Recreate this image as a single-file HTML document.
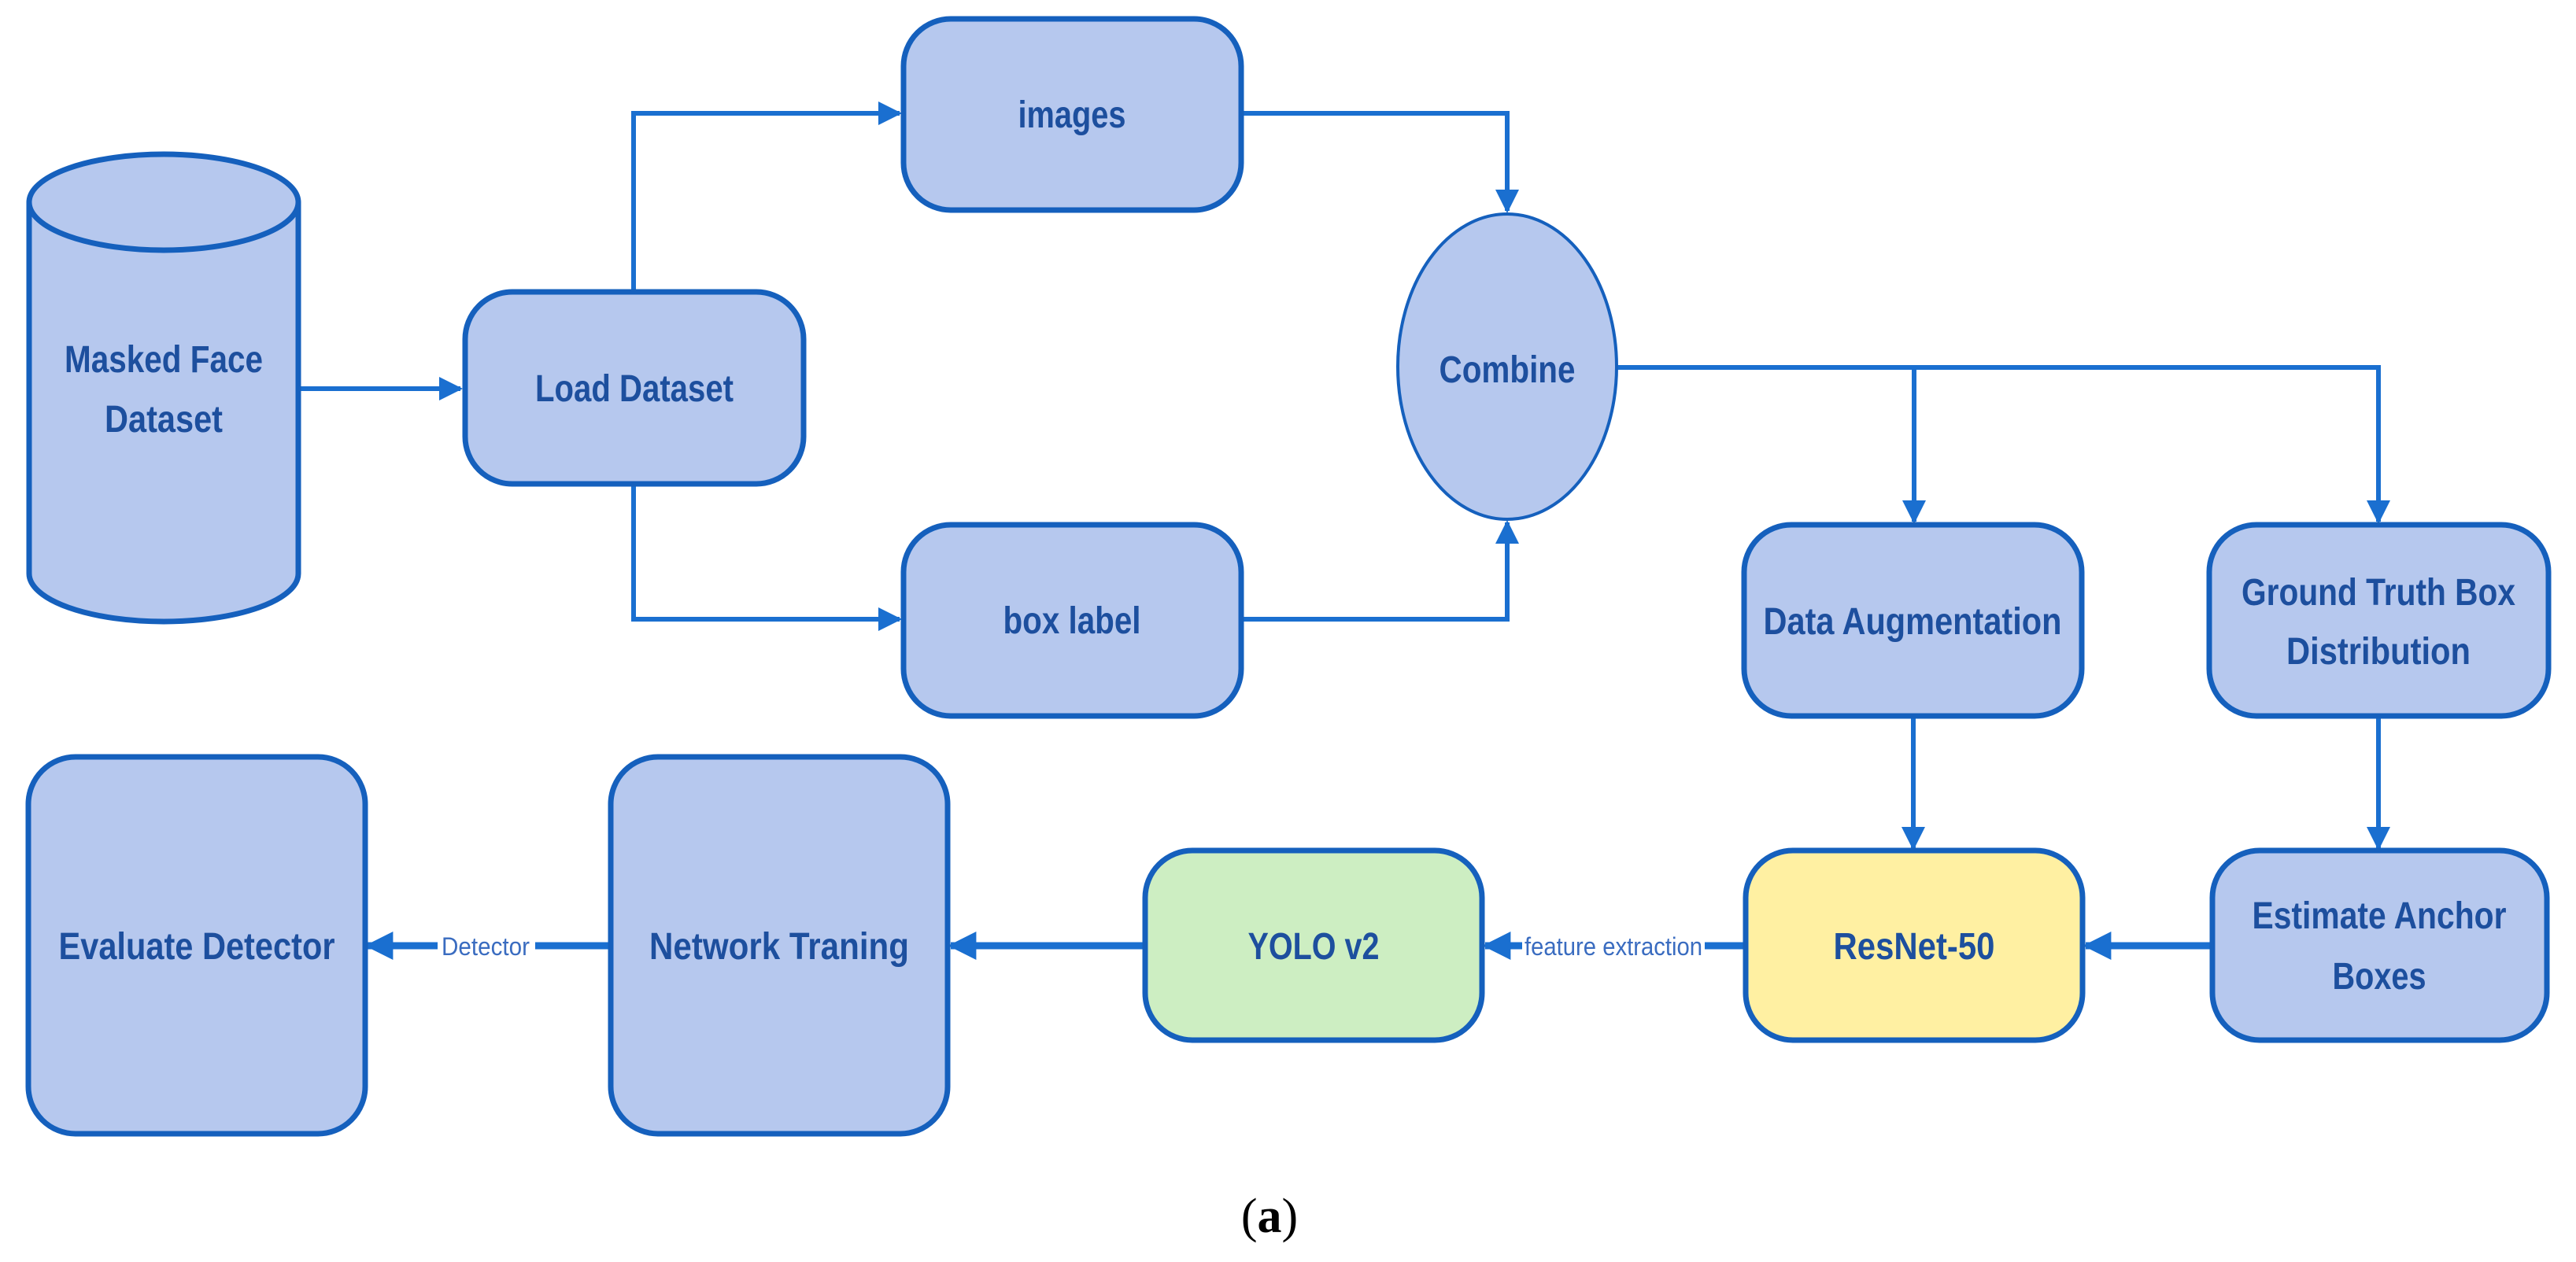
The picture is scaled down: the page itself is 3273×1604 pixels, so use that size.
<!DOCTYPE html>
<html><head><meta charset="utf-8"><style>
html,body{margin:0;padding:0;background:#fff;}
svg{display:block;}
text{font-family:"Liberation Sans",sans-serif;fill:#1d4f9e;}
</style></head><body>
<svg width="3273" height="1604" viewBox="0 0 3273 1604" xmlns="http://www.w3.org/2000/svg">
<defs>
<marker id="ar" markerWidth="5" markerHeight="5" refX="4.5" refY="2.5" orient="auto" markerUnits="strokeWidth">
<path d="M0,0 L5,2.5 L0,5 z" fill="#1a6fd0"/>
</marker>
<marker id="ar2" markerWidth="4" markerHeight="4" refX="3.6" refY="2" orient="auto" markerUnits="strokeWidth">
<path d="M0,0 L4,2 L0,4 z" fill="#1a6fd0"/>
</marker>
</defs>
<g stroke="#1a6fd0" stroke-width="6" fill="none">
<line x1="379" y1="494" x2="585" y2="494" marker-end="url(#ar)"/>
<polyline points="805,371 805,144 1143,144" marker-end="url(#ar)"/>
<polyline points="805,615 805,787 1143,787" marker-end="url(#ar)"/>
<polyline points="1577,144 1915,144 1915,268" marker-end="url(#ar)"/>
<polyline points="1577,787 1915,787 1915,664" marker-end="url(#ar)"/>
<polyline points="2054,467 3022,467 3022,663" marker-end="url(#ar)"/>
<polyline points="2432,467 2432,663" marker-end="url(#ar)"/>
<line x1="2431" y1="910" x2="2431" y2="1078" marker-end="url(#ar)"/>
<line x1="3022" y1="910" x2="3022" y2="1078" marker-end="url(#ar)"/>
<line x1="2811" y1="1202" x2="2650" y2="1202" stroke-width="9" marker-end="url(#ar2)"/>
<line x1="2218" y1="1202" x2="1887" y2="1202" stroke-width="9" marker-end="url(#ar2)"/>
<line x1="1455" y1="1202" x2="1208" y2="1202" stroke-width="9" marker-end="url(#ar2)"/>
<line x1="776" y1="1202" x2="467" y2="1202" stroke-width="9" marker-end="url(#ar2)"/>
</g>
<rect x="1934" y="1180" width="232" height="44" fill="#fff"/>
<text x="2050" y="1214" font-size="32" text-anchor="middle" textLength="226" lengthAdjust="spacingAndGlyphs" style="fill:#3a6cc0">feature extraction</text>
<rect x="556" y="1180" width="124" height="44" fill="#fff"/>
<text x="617" y="1214" font-size="32" text-anchor="middle" textLength="112" lengthAdjust="spacingAndGlyphs" style="fill:#3a6cc0">Detector</text>

<g stroke="#1560bd" stroke-width="7" fill="#b6c8ee">
<path d="M37,257 L37,729 A171,61 0 0 0 379,729 L379,257"/>
<ellipse cx="208" cy="257" rx="171" ry="61"/>
<rect x="591" y="371" width="430" height="244" rx="60"/>
<rect x="1148" y="24" width="429" height="243" rx="60"/>
<rect x="1148" y="667" width="429" height="243" rx="60"/>
<ellipse cx="1915" cy="466" rx="139" ry="194" stroke-width="4"/>
<rect x="2216" y="667" width="429" height="243" rx="60"/>
<rect x="2807" y="667" width="431" height="243" rx="60"/>
<rect x="2811" y="1081" width="425" height="241" rx="60"/>
<rect x="2218" y="1081" width="428" height="241" rx="60" fill="#fff0a2"/>
<rect x="1455" y="1081" width="428" height="241" rx="60" fill="#cdeec2"/>
<rect x="776" y="962" width="428" height="479" rx="60"/>
<rect x="36" y="962" width="428" height="479" rx="60"/>
</g>
<g font-size="48" font-weight="bold" text-anchor="middle" lengthAdjust="spacingAndGlyphs">
<text x="208" y="473" textLength="252" lengthAdjust="spacingAndGlyphs">Masked Face</text>
<text x="208" y="549" textLength="150" lengthAdjust="spacingAndGlyphs">Dataset</text>
<text x="806" y="510" textLength="252" lengthAdjust="spacingAndGlyphs">Load Dataset</text>
<text x="1362" y="162" textLength="137" lengthAdjust="spacingAndGlyphs">images</text>
<text x="1362" y="805" textLength="175" lengthAdjust="spacingAndGlyphs">box label</text>
<text x="1915" y="486" textLength="173" lengthAdjust="spacingAndGlyphs">Combine</text>
<text x="2430" y="806" textLength="379" lengthAdjust="spacingAndGlyphs">Data Augmentation</text>
<text x="3022" y="769" textLength="348" lengthAdjust="spacingAndGlyphs">Ground Truth Box</text>
<text x="3022" y="844" textLength="234" lengthAdjust="spacingAndGlyphs">Distribution</text>
<text x="3023" y="1180" textLength="323" lengthAdjust="spacingAndGlyphs">Estimate Anchor</text>
<text x="3023" y="1257" textLength="119" lengthAdjust="spacingAndGlyphs">Boxes</text>
<text x="2432" y="1219" textLength="205" lengthAdjust="spacingAndGlyphs">ResNet-50</text>
<text x="1669" y="1219" textLength="167" lengthAdjust="spacingAndGlyphs">YOLO v2</text>
<text x="990" y="1219" textLength="330" lengthAdjust="spacingAndGlyphs">Network Traning</text>
<text x="250" y="1219" textLength="351" lengthAdjust="spacingAndGlyphs">Evaluate Detector</text>
</g>
<text x="1613" y="1566" font-size="62" text-anchor="middle" style="font-family:'Liberation Serif',serif;fill:#000">(<tspan font-weight="bold">a</tspan>)</text>
</svg>
</body></html>
